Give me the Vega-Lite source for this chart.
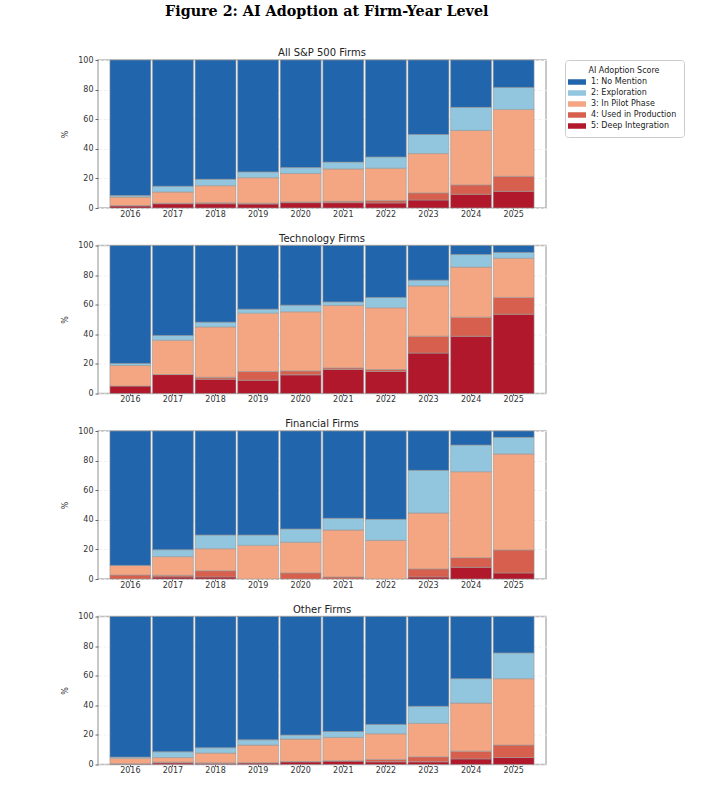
{
  "$schema": "https://vega.github.io/schema/vega-lite/v6.json",
  "padding": {"left": 60, "top": 4, "right": 5, "bottom": 5},
  "background": "white",
  "title": {
    "text": "Figure 2: AI Adoption at Firm-Year Level",
    "font": "DejaVu Serif",
    "fontSize": 14.3,
    "fontWeight": "bold",
    "color": "#000",
    "anchor": "middle",
    "dx": -46,
    "offset": 28
  },
  "data": {
    "values": [
      {"g": "all", "year": "2016", "score": "5: Deep Integration", "v": 1.4},
      {"g": "all", "year": "2016", "score": "4: Used in Production", "v": 0.3},
      {"g": "all", "year": "2016", "score": "3: In Pilot Phase", "v": 5.7},
      {"g": "all", "year": "2016", "score": "2: Exploration", "v": 1.0},
      {"g": "all", "year": "2016", "score": "1: No Mention", "v": 91.6},
      {"g": "all", "year": "2017", "score": "5: Deep Integration", "v": 2.9},
      {"g": "all", "year": "2017", "score": "4: Used in Production", "v": 0.3},
      {"g": "all", "year": "2017", "score": "3: In Pilot Phase", "v": 7.6},
      {"g": "all", "year": "2017", "score": "2: Exploration", "v": 3.9},
      {"g": "all", "year": "2017", "score": "1: No Mention", "v": 85.3},
      {"g": "all", "year": "2018", "score": "5: Deep Integration", "v": 2.9},
      {"g": "all", "year": "2018", "score": "4: Used in Production", "v": 0.7},
      {"g": "all", "year": "2018", "score": "3: In Pilot Phase", "v": 11.5},
      {"g": "all", "year": "2018", "score": "2: Exploration", "v": 4.3},
      {"g": "all", "year": "2018", "score": "1: No Mention", "v": 80.6},
      {"g": "all", "year": "2019", "score": "5: Deep Integration", "v": 2.7},
      {"g": "all", "year": "2019", "score": "4: Used in Production", "v": 0.5},
      {"g": "all", "year": "2019", "score": "3: In Pilot Phase", "v": 17.3},
      {"g": "all", "year": "2019", "score": "2: Exploration", "v": 3.9},
      {"g": "all", "year": "2019", "score": "1: No Mention", "v": 75.6},
      {"g": "all", "year": "2020", "score": "5: Deep Integration", "v": 3.6},
      {"g": "all", "year": "2020", "score": "4: Used in Production", "v": 0.5},
      {"g": "all", "year": "2020", "score": "3: In Pilot Phase", "v": 19.2},
      {"g": "all", "year": "2020", "score": "2: Exploration", "v": 4.0},
      {"g": "all", "year": "2020", "score": "1: No Mention", "v": 72.7},
      {"g": "all", "year": "2021", "score": "5: Deep Integration", "v": 3.6},
      {"g": "all", "year": "2021", "score": "4: Used in Production", "v": 0.9},
      {"g": "all", "year": "2021", "score": "3: In Pilot Phase", "v": 21.9},
      {"g": "all", "year": "2021", "score": "2: Exploration", "v": 4.6},
      {"g": "all", "year": "2021", "score": "1: No Mention", "v": 69.0},
      {"g": "all", "year": "2022", "score": "5: Deep Integration", "v": 3.4},
      {"g": "all", "year": "2022", "score": "4: Used in Production", "v": 1.6},
      {"g": "all", "year": "2022", "score": "3: In Pilot Phase", "v": 21.9},
      {"g": "all", "year": "2022", "score": "2: Exploration", "v": 7.6},
      {"g": "all", "year": "2022", "score": "1: No Mention", "v": 65.5},
      {"g": "all", "year": "2023", "score": "5: Deep Integration", "v": 5.4},
      {"g": "all", "year": "2023", "score": "4: Used in Production", "v": 4.8},
      {"g": "all", "year": "2023", "score": "3: In Pilot Phase", "v": 26.6},
      {"g": "all", "year": "2023", "score": "2: Exploration", "v": 12.9},
      {"g": "all", "year": "2023", "score": "1: No Mention", "v": 50.3},
      {"g": "all", "year": "2024", "score": "5: Deep Integration", "v": 9.3},
      {"g": "all", "year": "2024", "score": "4: Used in Production", "v": 6.3},
      {"g": "all", "year": "2024", "score": "3: In Pilot Phase", "v": 36.8},
      {"g": "all", "year": "2024", "score": "2: Exploration", "v": 15.6},
      {"g": "all", "year": "2024", "score": "1: No Mention", "v": 32.0},
      {"g": "all", "year": "2025", "score": "5: Deep Integration", "v": 11.3},
      {"g": "all", "year": "2025", "score": "4: Used in Production", "v": 10.1},
      {"g": "all", "year": "2025", "score": "3: In Pilot Phase", "v": 45.2},
      {"g": "all", "year": "2025", "score": "2: Exploration", "v": 14.9},
      {"g": "all", "year": "2025", "score": "1: No Mention", "v": 18.5},

      {"g": "tech", "year": "2016", "score": "5: Deep Integration", "v": 5.0},
      {"g": "tech", "year": "2016", "score": "3: In Pilot Phase", "v": 13.9},
      {"g": "tech", "year": "2016", "score": "2: Exploration", "v": 1.4},
      {"g": "tech", "year": "2016", "score": "1: No Mention", "v": 79.7},
      {"g": "tech", "year": "2017", "score": "5: Deep Integration", "v": 12.8},
      {"g": "tech", "year": "2017", "score": "3: In Pilot Phase", "v": 23.2},
      {"g": "tech", "year": "2017", "score": "2: Exploration", "v": 3.2},
      {"g": "tech", "year": "2017", "score": "1: No Mention", "v": 60.8},
      {"g": "tech", "year": "2018", "score": "5: Deep Integration", "v": 9.7},
      {"g": "tech", "year": "2018", "score": "4: Used in Production", "v": 1.3},
      {"g": "tech", "year": "2018", "score": "3: In Pilot Phase", "v": 34.0},
      {"g": "tech", "year": "2018", "score": "2: Exploration", "v": 3.2},
      {"g": "tech", "year": "2018", "score": "1: No Mention", "v": 51.8},
      {"g": "tech", "year": "2019", "score": "5: Deep Integration", "v": 9.0},
      {"g": "tech", "year": "2019", "score": "4: Used in Production", "v": 5.9},
      {"g": "tech", "year": "2019", "score": "3: In Pilot Phase", "v": 39.4},
      {"g": "tech", "year": "2019", "score": "2: Exploration", "v": 2.7},
      {"g": "tech", "year": "2019", "score": "1: No Mention", "v": 43.0},
      {"g": "tech", "year": "2020", "score": "5: Deep Integration", "v": 12.6},
      {"g": "tech", "year": "2020", "score": "4: Used in Production", "v": 2.7},
      {"g": "tech", "year": "2020", "score": "3: In Pilot Phase", "v": 39.9},
      {"g": "tech", "year": "2020", "score": "2: Exploration", "v": 4.5},
      {"g": "tech", "year": "2020", "score": "1: No Mention", "v": 40.3},
      {"g": "tech", "year": "2021", "score": "5: Deep Integration", "v": 16.2},
      {"g": "tech", "year": "2021", "score": "4: Used in Production", "v": 1.1},
      {"g": "tech", "year": "2021", "score": "3: In Pilot Phase", "v": 42.2},
      {"g": "tech", "year": "2021", "score": "2: Exploration", "v": 2.4},
      {"g": "tech", "year": "2021", "score": "1: No Mention", "v": 38.1},
      {"g": "tech", "year": "2022", "score": "5: Deep Integration", "v": 14.9},
      {"g": "tech", "year": "2022", "score": "4: Used in Production", "v": 1.3},
      {"g": "tech", "year": "2022", "score": "3: In Pilot Phase", "v": 41.7},
      {"g": "tech", "year": "2022", "score": "2: Exploration", "v": 7.0},
      {"g": "tech", "year": "2022", "score": "1: No Mention", "v": 35.1},
      {"g": "tech", "year": "2023", "score": "5: Deep Integration", "v": 27.3},
      {"g": "tech", "year": "2023", "score": "4: Used in Production", "v": 11.4},
      {"g": "tech", "year": "2023", "score": "3: In Pilot Phase", "v": 34.0},
      {"g": "tech", "year": "2023", "score": "2: Exploration", "v": 3.9},
      {"g": "tech", "year": "2023", "score": "1: No Mention", "v": 23.4},
      {"g": "tech", "year": "2024", "score": "5: Deep Integration", "v": 38.7},
      {"g": "tech", "year": "2024", "score": "4: Used in Production", "v": 12.9},
      {"g": "tech", "year": "2024", "score": "3: In Pilot Phase", "v": 33.8},
      {"g": "tech", "year": "2024", "score": "2: Exploration", "v": 8.5},
      {"g": "tech", "year": "2024", "score": "1: No Mention", "v": 6.1},
      {"g": "tech", "year": "2025", "score": "5: Deep Integration", "v": 53.6},
      {"g": "tech", "year": "2025", "score": "4: Used in Production", "v": 11.3},
      {"g": "tech", "year": "2025", "score": "3: In Pilot Phase", "v": 26.5},
      {"g": "tech", "year": "2025", "score": "2: Exploration", "v": 3.9},
      {"g": "tech", "year": "2025", "score": "1: No Mention", "v": 4.7},

      {"g": "fin", "year": "2016", "score": "4: Used in Production", "v": 2.7},
      {"g": "fin", "year": "2016", "score": "3: In Pilot Phase", "v": 6.5},
      {"g": "fin", "year": "2016", "score": "1: No Mention", "v": 90.8},
      {"g": "fin", "year": "2017", "score": "5: Deep Integration", "v": 1.4},
      {"g": "fin", "year": "2017", "score": "4: Used in Production", "v": 1.1},
      {"g": "fin", "year": "2017", "score": "3: In Pilot Phase", "v": 12.6},
      {"g": "fin", "year": "2017", "score": "2: Exploration", "v": 4.7},
      {"g": "fin", "year": "2017", "score": "1: No Mention", "v": 80.2},
      {"g": "fin", "year": "2018", "score": "5: Deep Integration", "v": 1.4},
      {"g": "fin", "year": "2018", "score": "4: Used in Production", "v": 4.2},
      {"g": "fin", "year": "2018", "score": "3: In Pilot Phase", "v": 14.9},
      {"g": "fin", "year": "2018", "score": "2: Exploration", "v": 9.2},
      {"g": "fin", "year": "2018", "score": "1: No Mention", "v": 70.3},
      {"g": "fin", "year": "2019", "score": "3: In Pilot Phase", "v": 22.7},
      {"g": "fin", "year": "2019", "score": "2: Exploration", "v": 7.0},
      {"g": "fin", "year": "2019", "score": "1: No Mention", "v": 70.3},
      {"g": "fin", "year": "2020", "score": "4: Used in Production", "v": 4.1},
      {"g": "fin", "year": "2020", "score": "3: In Pilot Phase", "v": 20.7},
      {"g": "fin", "year": "2020", "score": "2: Exploration", "v": 9.0},
      {"g": "fin", "year": "2020", "score": "1: No Mention", "v": 66.2},
      {"g": "fin", "year": "2021", "score": "4: Used in Production", "v": 1.4},
      {"g": "fin", "year": "2021", "score": "3: In Pilot Phase", "v": 31.7},
      {"g": "fin", "year": "2021", "score": "2: Exploration", "v": 7.9},
      {"g": "fin", "year": "2021", "score": "1: No Mention", "v": 59.0},
      {"g": "fin", "year": "2022", "score": "3: In Pilot Phase", "v": 26.1},
      {"g": "fin", "year": "2022", "score": "2: Exploration", "v": 14.2},
      {"g": "fin", "year": "2022", "score": "1: No Mention", "v": 59.7},
      {"g": "fin", "year": "2023", "score": "5: Deep Integration", "v": 1.4},
      {"g": "fin", "year": "2023", "score": "4: Used in Production", "v": 5.4},
      {"g": "fin", "year": "2023", "score": "3: In Pilot Phase", "v": 37.8},
      {"g": "fin", "year": "2023", "score": "2: Exploration", "v": 28.8},
      {"g": "fin", "year": "2023", "score": "1: No Mention", "v": 26.6},
      {"g": "fin", "year": "2024", "score": "5: Deep Integration", "v": 7.9},
      {"g": "fin", "year": "2024", "score": "4: Used in Production", "v": 6.5},
      {"g": "fin", "year": "2024", "score": "3: In Pilot Phase", "v": 58.1},
      {"g": "fin", "year": "2024", "score": "2: Exploration", "v": 18.0},
      {"g": "fin", "year": "2024", "score": "1: No Mention", "v": 9.5},
      {"g": "fin", "year": "2025", "score": "5: Deep Integration", "v": 4.1},
      {"g": "fin", "year": "2025", "score": "4: Used in Production", "v": 15.5},
      {"g": "fin", "year": "2025", "score": "3: In Pilot Phase", "v": 64.9},
      {"g": "fin", "year": "2025", "score": "2: Exploration", "v": 11.2},
      {"g": "fin", "year": "2025", "score": "1: No Mention", "v": 4.3},

      {"g": "other", "year": "2016", "score": "5: Deep Integration", "v": 0.3},
      {"g": "other", "year": "2016", "score": "4: Used in Production", "v": 0.2},
      {"g": "other", "year": "2016", "score": "3: In Pilot Phase", "v": 3.8},
      {"g": "other", "year": "2016", "score": "2: Exploration", "v": 0.7},
      {"g": "other", "year": "2016", "score": "1: No Mention", "v": 95.0},
      {"g": "other", "year": "2017", "score": "5: Deep Integration", "v": 1.1},
      {"g": "other", "year": "2017", "score": "4: Used in Production", "v": 0.5},
      {"g": "other", "year": "2017", "score": "3: In Pilot Phase", "v": 3.1},
      {"g": "other", "year": "2017", "score": "2: Exploration", "v": 3.9},
      {"g": "other", "year": "2017", "score": "1: No Mention", "v": 91.4},
      {"g": "other", "year": "2018", "score": "5: Deep Integration", "v": 0.9},
      {"g": "other", "year": "2018", "score": "4: Used in Production", "v": 0.2},
      {"g": "other", "year": "2018", "score": "3: In Pilot Phase", "v": 6.6},
      {"g": "other", "year": "2018", "score": "2: Exploration", "v": 3.6},
      {"g": "other", "year": "2018", "score": "1: No Mention", "v": 88.7},
      {"g": "other", "year": "2019", "score": "5: Deep Integration", "v": 1.1},
      {"g": "other", "year": "2019", "score": "4: Used in Production", "v": 0.1},
      {"g": "other", "year": "2019", "score": "3: In Pilot Phase", "v": 11.9},
      {"g": "other", "year": "2019", "score": "2: Exploration", "v": 3.6},
      {"g": "other", "year": "2019", "score": "1: No Mention", "v": 83.3},
      {"g": "other", "year": "2020", "score": "5: Deep Integration", "v": 1.8},
      {"g": "other", "year": "2020", "score": "4: Used in Production", "v": 0.2},
      {"g": "other", "year": "2020", "score": "3: In Pilot Phase", "v": 15.2},
      {"g": "other", "year": "2020", "score": "2: Exploration", "v": 2.7},
      {"g": "other", "year": "2020", "score": "1: No Mention", "v": 80.1},
      {"g": "other", "year": "2021", "score": "5: Deep Integration", "v": 2.3},
      {"g": "other", "year": "2021", "score": "4: Used in Production", "v": 0.2},
      {"g": "other", "year": "2021", "score": "3: In Pilot Phase", "v": 15.8},
      {"g": "other", "year": "2021", "score": "2: Exploration", "v": 4.0},
      {"g": "other", "year": "2021", "score": "1: No Mention", "v": 77.7},
      {"g": "other", "year": "2022", "score": "5: Deep Integration", "v": 1.8},
      {"g": "other", "year": "2022", "score": "4: Used in Production", "v": 1.6},
      {"g": "other", "year": "2022", "score": "3: In Pilot Phase", "v": 17.4},
      {"g": "other", "year": "2022", "score": "2: Exploration", "v": 6.3},
      {"g": "other", "year": "2022", "score": "1: No Mention", "v": 72.9},
      {"g": "other", "year": "2023", "score": "5: Deep Integration", "v": 1.8},
      {"g": "other", "year": "2023", "score": "4: Used in Production", "v": 3.4},
      {"g": "other", "year": "2023", "score": "3: In Pilot Phase", "v": 22.6},
      {"g": "other", "year": "2023", "score": "2: Exploration", "v": 11.5},
      {"g": "other", "year": "2023", "score": "1: No Mention", "v": 60.7},
      {"g": "other", "year": "2024", "score": "5: Deep Integration", "v": 3.8},
      {"g": "other", "year": "2024", "score": "4: Used in Production", "v": 5.2},
      {"g": "other", "year": "2024", "score": "3: In Pilot Phase", "v": 32.5},
      {"g": "other", "year": "2024", "score": "2: Exploration", "v": 16.5},
      {"g": "other", "year": "2024", "score": "1: No Mention", "v": 42.0},
      {"g": "other", "year": "2025", "score": "5: Deep Integration", "v": 4.7},
      {"g": "other", "year": "2025", "score": "4: Used in Production", "v": 8.4},
      {"g": "other", "year": "2025", "score": "3: In Pilot Phase", "v": 44.9},
      {"g": "other", "year": "2025", "score": "2: Exploration", "v": 17.4},
      {"g": "other", "year": "2025", "score": "1: No Mention", "v": 24.6}
    ]
  },
  "spacing": 13.5,
  "vconcat": [
    {
      "title": "All S&P 500 Firms",
      "width": 448,
      "height": 148,
      "transform": [{"filter": "datum.g === 'all'"}],
      "mark": {"type": "bar", "stroke": "#999", "strokeWidth": 0.6},
      "encoding": {
        "x": {"field": "year", "type": "ordinal", "title": null, "scale": {"paddingInner": 0.04, "paddingOuter": 0.28}},
        "y": {"field": "v", "type": "quantitative", "stack": "zero", "title": "%", "scale": {"domain": [0, 100]}},
        "color": {"field": "score", "type": "nominal", "title": "AI Adoption Score"},
        "order": {"field": "score", "sort": "descending"}
      }
    },
    {
      "title": "Technology Firms",
      "width": 448,
      "height": 148,
      "transform": [{"filter": "datum.g === 'tech'"}],
      "mark": {"type": "bar", "stroke": "#999", "strokeWidth": 0.6},
      "encoding": {
        "x": {"field": "year", "type": "ordinal", "title": null, "scale": {"paddingInner": 0.04, "paddingOuter": 0.28}},
        "y": {"field": "v", "type": "quantitative", "stack": "zero", "title": "%", "scale": {"domain": [0, 100]}},
        "color": {"field": "score", "type": "nominal", "title": "AI Adoption Score"},
        "order": {"field": "score", "sort": "descending"}
      }
    },
    {
      "title": "Financial Firms",
      "width": 448,
      "height": 148,
      "transform": [{"filter": "datum.g === 'fin'"}],
      "mark": {"type": "bar", "stroke": "#999", "strokeWidth": 0.6},
      "encoding": {
        "x": {"field": "year", "type": "ordinal", "title": null, "scale": {"paddingInner": 0.04, "paddingOuter": 0.28}},
        "y": {"field": "v", "type": "quantitative", "stack": "zero", "title": "%", "scale": {"domain": [0, 100]}},
        "color": {"field": "score", "type": "nominal", "title": "AI Adoption Score"},
        "order": {"field": "score", "sort": "descending"}
      }
    },
    {
      "title": "Other Firms",
      "width": 448,
      "height": 148,
      "transform": [{"filter": "datum.g === 'other'"}],
      "mark": {"type": "bar", "stroke": "#999", "strokeWidth": 0.6},
      "encoding": {
        "x": {"field": "year", "type": "ordinal", "title": null, "scale": {"paddingInner": 0.04, "paddingOuter": 0.28}},
        "y": {"field": "v", "type": "quantitative", "stack": "zero", "title": "%", "scale": {"domain": [0, 100]}},
        "color": {"field": "score", "type": "nominal", "title": "AI Adoption Score"},
        "order": {"field": "score", "sort": "descending"}
      }
    }
  ],
  "resolve": {"scale": {"color": "shared"}},
  "config": {
    "font": "DejaVu Sans",
    "view": {"stroke": "#b5b5b5", "strokeWidth": 1.5},
    "title": {"fontSize": 10, "fontWeight": "normal", "color": "#222", "offset": -2},
    "axis": {
      "domain": false,
      "labelFontSize": 8,
      "labelColor": "#333",
      "tickColor": "#666",
      "tickSize": 2,
      "labelPadding": 0,
      "titleFontSize": 8,
      "titleFontWeight": "normal",
      "titleColor": "#333"
    },
    "axisX": {"grid": false, "labelAngle": 0},
    "axisY": {"grid": true, "gridColor": "#efefef", "gridDash": [3, 2], "values": [0, 20, 40, 60, 80, 100], "titlePadding": 8, "tickSize": 3, "labelPadding": 2},
    "range": {"category": ["#2166ac", "#92c5de", "#f4a582", "#d6604d", "#b2182b"]},
    "legend": {
      "titleFontSize": 8,
      "titleFontWeight": "normal",
      "titleColor": "#222",
      "titleAnchor": "middle",
      "titlePadding": 2,
      "labelFontSize": 8,
      "labelColor": "#222",
      "labelOffset": 9,
      "symbolType": "M-1.8,-0.55H1.8V0.55H-1.8Z",
      "symbolSize": 100,
      "symbolStrokeWidth": 0,
      "rowPadding": 2,
      "padding": 7,
      "strokeColor": "#cccccc",
      "cornerRadius": 3,
      "offset": 18
    }
  }
}
